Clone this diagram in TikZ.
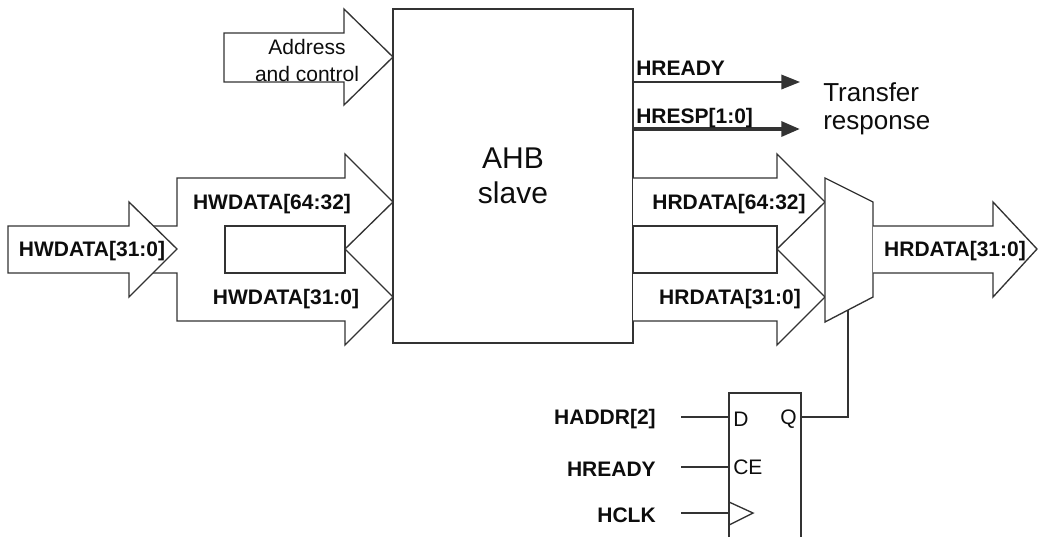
\documentclass[tikz,border=0pt]{standalone}
\usepackage{fontspec}
\setmainfont{Liberation Sans}
\usetikzlibrary{arrows.meta}
\begin{document}
\begin{tikzpicture}[x=0.75pt,y=-0.75pt,
  ln/.style={draw=black!80, line width=1pt, line join=miter},
  outl/.style={ln, fill=white},
  blab/.style={font=\fontsize{15.75}{18}\selectfont\bfseries, text=black!95, inner sep=0pt},
  rlab/.style={font=\fontsize{15.75}{20.25}\selectfont, text=black!95, inner sep=0pt, align=center},
  biglab/.style={font=\fontsize{22.5}{26.25}\selectfont, text=black!95, align=center},
  midlab/.style={font=\fontsize{19.5}{21}\selectfont, text=black!95, inner sep=0pt, align=left},
  tiparrow/.style={-{Triangle[length=14pt,width=11pt]}},
  ]
\useasboundingbox (0,0) rectangle (1039,537);

% AHB slave box
\node[ln, minimum width=180pt, minimum height=250.5pt, biglab] (ahb) at (513,176) {AHB\\slave};

% Address and control arrow
\draw[outl] (224,33) -- (344,33) -- (344,9) -- (393,57) -- (344,105) -- (344,82) -- (224,82) -- cycle;
\node[rlab] (addr) at (307,60) {Address\\and control};

% split write data arrows
\draw[outl] (140,226) -- (177,226) -- (177,178) -- (345,178) -- (345,154) -- (393,202) -- (345,249)
  -- (393,297) -- (345,345) -- (345,321) -- (177,321) -- (177,273) -- (140,273) -- cycle;
\draw[ln] (225,226) rectangle (345,273);
% input write data arrow
\draw[outl] (8,226) -- (129,226) -- (129,202) -- (177,249) -- (129,297) -- (129,273) -- (8,273) -- cycle;
\node[blab] (hwin) at (92,251) {HWDATA[31:0]};
\node[blab] (hwhi) at (272,204) {HWDATA[64:32]};
\node[blab] (hwlo) at (286,299) {HWDATA[31:0]};

% read data arrows
\draw[outl] (633,178) -- (777,178) -- (777,154) -- (825,202) -- (777,249) -- (825,297) -- (777,345) -- (777,321) -- (633,321);
\draw[ln] (633,226) rectangle (777,273);
\node[blab] (hrhi) at (729,204) {HRDATA[64:32]};
\node[blab] (hrlo) at (730,299) {HRDATA[31:0]};

% multiplexer
\draw[outl] (825,178) coordinate (muxtl) -- (873,202) -- (873,297) -- (825,322) coordinate (muxbl) -- cycle;
% output arrow
\draw[outl] (873,226) -- (993,226) -- (993,202) -- (1037,249) -- (993,297) -- (993,273) -- (873,273);
\node[blab] (hrout) at (955,251) {HRDATA[31:0]};

% transfer response
\coordinate (rdyS) at (633,82);
\coordinate (rdyE) at (800,82);
\coordinate (rspS) at (633,129);
\coordinate (rspE) at (800,129);
\draw[ln, tiparrow] (rdyS) -- (rdyE);
\draw[ln, tiparrow, line width=3pt] (rspS) -- (rspE);
\node[blab, anchor=base west] (hready) at (636,75) {HREADY};
\node[blab, anchor=base west] (hresp) at (636,123) {HRESP[1:0]};
\node[midlab, anchor=west] (tr) at (823,109) {Transfer\\response};

% flip-flop
\draw[ln] (729,537) -- (729,393) -- (801,393) -- (801,537);
\draw[ln] (729,502) -- (753,513) -- (729,525);
\coordinate (ffD) at (729,417);
\coordinate (ffCE) at (729,467);
\coordinate (ffC) at (729,513);
\coordinate (ffQ) at (801,417);
\coordinate (muxsel) at (848,310);
\node[rlab, anchor=west] (dl) at (733,419) {D};
\node[rlab, anchor=east] (ql) at (797,419) {Q};
\node[rlab, anchor=west] (cel) at (733,467) {CE};
\node[blab, anchor=east] (haddr) at (656,419) {HADDR[2]};
\node[blab, anchor=east] (hrdy2) at (656,469) {HREADY};
\node[blab, anchor=east] (hclk) at (656,515) {HCLK};
\draw[ln] (681,417) -- (ffD);
\draw[ln] (681,467) -- (ffCE);
\draw[ln] (681,513) -- (ffC);
\draw[ln] (muxsel) |- (ffQ);
\end{tikzpicture}
\end{document}
